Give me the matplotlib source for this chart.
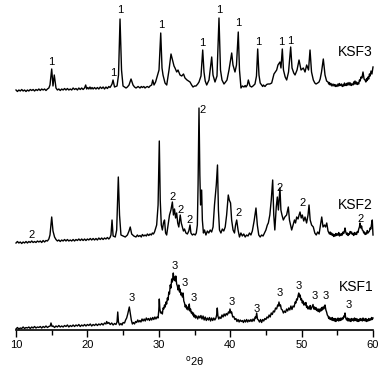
import numpy as np
import matplotlib
matplotlib.use("Agg")
import matplotlib.pyplot as plt

plt.rcParams['font.family'] = ['Liberation Sans', 'DejaVu Sans']

# XRD patterns: (2theta in degrees, intensity in a.u.)
ksf3 = [
    (10.0, 5), (10.2, 3.5), (10.4, 5), (10.6, 4), (10.8, 5.5), (11.0, 4), (11.2, 5), (11.4, 3.5),
    (11.6, 5), (11.8, 4), (12.0, 5.5), (12.2, 4.5), (12.4, 5.5), (12.6, 4), (12.8, 5.5), (13.0, 4.5),
    (13.2, 6), (13.4, 4.5), (13.6, 6), (13.8, 5), (14.0, 6), (14.2, 4.5), (14.4, 6), (14.6, 7),
    (14.76, 10), (15.00, 26), (15.18, 9), (15.36, 20), (15.6, 7), (15.8, 5), (16.0, 6), (16.2, 4.5),
    (16.4, 6), (16.6, 5), (16.8, 6.5), (17.0, 5), (17.2, 6.5), (17.4, 5), (17.6, 6), (17.8, 5),
    (18.0, 7), (18.2, 5.5), (18.4, 6.5), (18.6, 5), (18.8, 7), (19.0, 5.5), (19.2, 7), (19.4, 5.5),
    (19.6, 7), (19.76, 10), (19.9, 6), (20.05, 7.5), (20.2, 6), (20.36, 8), (20.5, 6), (20.65, 7.5),
    (20.8, 6), (21.0, 7.5), (21.2, 6), (21.4, 7.5), (21.6, 6), (21.8, 8), (22.0, 6.5), (22.2, 8),
    (22.4, 6), (22.6, 8), (22.8, 6.5), (23.0, 8.5), (23.17, 7.5), (23.3, 9), (23.45, 11),
    (23.59, 15), (23.80, 8), (24.15, 9), (24.36, 20), (24.57, 76), (24.78, 25), (24.99, 9),
    (25.2, 8), (25.41, 7), (25.6, 8), (25.83, 10), (26.11, 16), (26.39, 10), (26.6, 8), (26.81, 7),
    (27.1, 8.5), (27.37, 7), (27.55, 8.5), (27.7, 7.5), (27.9, 8.5), (28.07, 7), (28.25, 8),
    (28.4, 8.5), (28.6, 7.5), (28.77, 9), (29.0, 10), (29.15, 15), (29.33, 10), (29.55, 13),
    (29.75, 18), (30.03, 25), (30.27, 62), (30.45, 27), (30.59, 20), (30.87, 12), (31.11, 10),
    (31.43, 25), (31.71, 41), (31.92, 35), (32.13, 29), (32.27, 27), (32.51, 23), (32.69, 25),
    (32.97, 20), (33.21, 19), (33.46, 21), (33.67, 17), (33.95, 15), (34.15, 14), (34.37, 13),
    (34.6, 10), (34.79, 8), (35.0, 9), (35.21, 9), (35.45, 11), (35.63, 13), (35.91, 19),
    (36.15, 45), (36.33, 23), (36.5, 14), (36.71, 10), (37.03, 15), (37.41, 38), (37.59, 20),
    (37.87, 13), (38.15, 19), (38.43, 77), (38.64, 25), (38.85, 15), (39.13, 11), (39.35, 13),
    (39.55, 15), (39.83, 25), (40.21, 42), (40.39, 30), (40.67, 23), (40.88, 30), (41.13, 63),
    (41.30, 25), (41.51, 7), (41.7, 9), (41.93, 8), (42.1, 9.5), (42.21, 8), (42.4, 10),
    (42.54, 15), (42.77, 9), (43.0, 8), (43.19, 9), (43.47, 11), (43.68, 19), (43.85, 46),
    (44.03, 20), (44.2, 12), (44.41, 10), (44.55, 8.5), (44.65, 10), (44.87, 8.5), (45.1, 10.5),
    (45.29, 11), (45.55, 11), (45.81, 12), (46.13, 21), (46.51, 25), (46.69, 30), (46.97, 33),
    (47.11, 27), (47.30, 46), (47.46, 25), (47.7, 18), (47.91, 15), (48.17, 23), (48.47, 48),
    (48.66, 27), (48.9, 22), (49.08, 20), (49.36, 25), (49.64, 35), (49.92, 25), (50.24, 27),
    (50.48, 23), (50.71, 30), (50.97, 25), (51.18, 45), (51.39, 23), (51.64, 15), (51.85, 12),
    (52.02, 11), (52.25, 12), (52.44, 13), (52.6, 16), (52.79, 23), (53.04, 36), (53.28, 20),
    (53.5, 14), (53.70, 13), (53.8, 11), (53.9, 12.5), (54.0, 10), (54.12, 11.5), (54.25, 9),
    (54.4, 11), (54.54, 9), (54.65, 10.5), (54.75, 8.5), (54.85, 10), (54.96, 8.5), (55.1, 11),
    (55.2, 9), (55.3, 11.5), (55.45, 9.5), (55.6, 11), (55.7, 8.5), (55.80, 10), (55.9, 9),
    (56.0, 12), (56.1, 9.5), (56.22, 11), (56.3, 9.5), (56.4, 12), (56.5, 10), (56.64, 12.5),
    (56.75, 10), (56.85, 12), (56.95, 9.5), (57.06, 11), (57.2, 10), (57.3, 13), (57.4, 11),
    (57.48, 14), (57.6, 11), (57.7, 13), (57.8, 10.5), (57.90, 12), (58.0, 11), (58.1, 15),
    (58.2, 14), (58.32, 18), (58.45, 17), (58.60, 23), (58.75, 16), (58.88, 15), (59.0, 13),
    (59.1, 16.5), (59.2, 14.5), (59.30, 18), (59.4, 16), (59.5, 21), (59.6, 19), (59.72, 24),
    (59.85, 21), (60.00, 28),
]

ksf2 = [
    (10.0, 2), (10.2, 3.5), (10.4, 2), (10.6, 3), (10.8, 1.5), (11.0, 3), (11.2, 2), (11.4, 3.5),
    (11.6, 2), (11.8, 3.5), (12.0, 2.5), (12.2, 4), (12.4, 2.5), (12.6, 3.5), (12.8, 2.5), (13.0, 4),
    (13.2, 3), (13.4, 4), (13.6, 2.5), (13.8, 4.5), (14.0, 3), (14.2, 4.5), (14.4, 4), (14.6, 6),
    (14.76, 10), (15.00, 28), (15.18, 14), (15.4, 8), (15.6, 5.5), (15.8, 4), (16.0, 5),
    (16.2, 3.5), (16.4, 5), (16.6, 4), (16.8, 5.5), (17.0, 4), (17.2, 5.5), (17.4, 4), (17.6, 5),
    (17.8, 4), (18.0, 5.5), (18.2, 4), (18.4, 5.5), (18.6, 4.5), (18.8, 6), (19.0, 4.5), (19.2, 6),
    (19.4, 4.5), (19.6, 6), (19.8, 4.5), (20.0, 6), (20.2, 5), (20.4, 6.5), (20.6, 5), (20.8, 6.5),
    (21.0, 5), (21.2, 6.5), (21.4, 5), (21.6, 7), (21.8, 5.5), (22.0, 7), (22.2, 5.5), (22.4, 7),
    (22.6, 6), (22.8, 7.5), (23.0, 6), (23.17, 7.5), (23.3, 10), (23.45, 25), (23.6, 9),
    (23.9, 8), (24.1, 15), (24.33, 68), (24.5, 30), (24.7, 10), (25.0, 9), (25.3, 8), (25.6, 10),
    (25.83, 14), (26.0, 18), (26.2, 11), (26.5, 9), (26.8, 8), (27.0, 10), (27.15, 8.5),
    (27.37, 9.5), (27.55, 8), (27.7, 10.5), (27.9, 9), (28.07, 10), (28.25, 9), (28.4, 11),
    (28.6, 9.5), (28.77, 11), (28.95, 10), (29.1, 12), (29.25, 11), (29.4, 13), (29.7, 20),
    (29.9, 40), (30.07, 104), (30.2, 45), (30.35, 20), (30.5, 15), (30.65, 22), (30.8, 25),
    (30.95, 12), (31.1, 10), (31.3, 20), (31.5, 30), (31.7, 35), (31.9, 43), (32.05, 30),
    (32.2, 36), (32.35, 27), (32.5, 32), (32.65, 22), (32.8, 18), (33.0, 30), (33.15, 22),
    (33.3, 18), (33.45, 14), (33.6, 16), (33.8, 12), (34.0, 11), (34.2, 14), (34.37, 20),
    (34.5, 12), (34.7, 10), (34.9, 11), (35.1, 10), (35.25, 12), (35.4, 20), (35.5, 60),
    (35.63, 137), (35.75, 70), (35.85, 40), (36.0, 55), (36.1, 25), (36.25, 12), (36.4, 15),
    (36.6, 10), (36.8, 14), (37.0, 12), (37.2, 15), (37.4, 13), (37.6, 18), (37.8, 40),
    (38.05, 60), (38.22, 80), (38.35, 35), (38.5, 15), (38.7, 12), (38.9, 16), (39.1, 14),
    (39.3, 18), (39.5, 30), (39.73, 50), (39.87, 45), (40.05, 42), (40.2, 25), (40.4, 15),
    (40.6, 12), (40.75, 20), (40.91, 25), (41.1, 15), (41.3, 8), (41.5, 12), (41.7, 9),
    (41.9, 11), (42.1, 8), (42.3, 10), (42.5, 9), (42.7, 12), (42.9, 10), (43.1, 14),
    (43.35, 24), (43.61, 37), (43.8, 20), (44.0, 10), (44.2, 8), (44.4, 10), (44.6, 9),
    (44.8, 12), (45.0, 15), (45.2, 20), (45.34, 22), (45.55, 30), (45.75, 45), (45.95, 65),
    (46.1, 30), (46.25, 15), (46.45, 38), (46.6, 48), (46.75, 35), (46.97, 57), (47.1, 35),
    (47.25, 30), (47.44, 25), (47.65, 28), (47.9, 30), (48.14, 38), (48.3, 25), (48.45, 20),
    (48.61, 15), (48.8, 20), (49.0, 25), (49.15, 22), (49.31, 28), (49.5, 26), (49.65, 30),
    (49.78, 33), (49.95, 27), (50.1, 30), (50.3, 24), (50.48, 28), (50.7, 22), (50.9, 30),
    (51.04, 40), (51.2, 25), (51.4, 20), (51.64, 18), (51.85, 12), (52.05, 10), (52.25, 13),
    (52.45, 11), (52.65, 20), (52.82, 28), (53.0, 18), (53.2, 20), (53.35, 18), (53.52, 22),
    (53.7, 14), (53.9, 11), (54.0, 13), (54.1, 10.5), (54.2, 12), (54.3, 9.5), (54.4, 11),
    (54.5, 8.5), (54.6, 10.5), (54.7, 9), (54.8, 11.5), (54.9, 9.5), (55.0, 11), (55.1, 10),
    (55.2, 12.5), (55.3, 9), (55.4, 11), (55.5, 9.5), (55.6, 11.5), (55.7, 10), (55.8, 13),
    (55.9, 11.5), (56.0, 14), (56.08, 17), (56.18, 13), (56.3, 10.5), (56.4, 12), (56.5, 9.5),
    (56.6, 11.5), (56.7, 10.5), (56.8, 13.5), (56.9, 12), (57.0, 13), (57.1, 10.5), (57.2, 11.5),
    (57.3, 9.5), (57.4, 12.5), (57.5, 10.5), (57.6, 12), (57.7, 10.5), (57.8, 13.5), (57.9, 12.5),
    (58.0, 16), (58.1, 18), (58.18, 22), (58.3, 17), (58.4, 19), (58.5, 15), (58.6, 14.5),
    (58.7, 12), (58.8, 13), (58.9, 10.5), (59.0, 12), (59.1, 11), (59.2, 14.5), (59.3, 12),
    (59.4, 13), (59.5, 14), (59.6, 17), (59.7, 16), (59.8, 21), (59.9, 25), (60.0, 10),
]

ksf1 = [
    (10.0, 1), (10.2, 2.5), (10.4, 1), (10.6, 2), (10.8, 1.5), (11.0, 3), (11.2, 1.5), (11.4, 2.5),
    (11.6, 2), (11.8, 3), (12.0, 1.5), (12.2, 3), (12.4, 2), (12.6, 3.5), (12.8, 2), (13.0, 3),
    (13.2, 2.5), (13.4, 3.5), (13.6, 2), (13.8, 3.5), (14.0, 2.5), (14.2, 4), (14.4, 2.5),
    (14.6, 3.5), (14.8, 4), (14.9, 7), (15.05, 3.5), (15.2, 4), (15.4, 2.5), (15.6, 4), (15.8, 3),
    (16.0, 4.5), (16.2, 3), (16.4, 4), (16.6, 3), (16.8, 4.5), (17.0, 3.5), (17.2, 5), (17.4, 3),
    (17.6, 4.5), (17.8, 3.5), (18.0, 5), (18.2, 3.5), (18.4, 5), (18.6, 4), (18.8, 5.5), (19.0, 3.5),
    (19.2, 5), (19.4, 4), (19.6, 5.5), (19.8, 4), (20.0, 5.5), (20.2, 4.5), (20.4, 6), (20.6, 4),
    (20.8, 5.5), (21.0, 4.5), (21.2, 6), (21.4, 4.5), (21.6, 6), (21.8, 5), (22.0, 6.5), (22.2, 5),
    (22.4, 7), (22.6, 6), (22.7, 8.5), (22.85, 6.5), (23.0, 7.5), (23.2, 5.5), (23.4, 7),
    (23.6, 5), (23.8, 6.5), (24.0, 5.5), (24.15, 8), (24.25, 18), (24.35, 8), (24.5, 5),
    (24.7, 6.5), (24.85, 5), (25.0, 7.5), (25.2, 7), (25.35, 10), (25.5, 12), (25.65, 16),
    (25.87, 23), (26.0, 17), (26.15, 10), (26.3, 6), (26.45, 7.5), (26.6, 6), (26.75, 8.5),
    (26.9, 7.5), (27.05, 10), (27.2, 8), (27.35, 9.5), (27.5, 8), (27.65, 11), (27.8, 9),
    (27.95, 11), (28.1, 9), (28.25, 12), (28.4, 10), (28.55, 11.5), (28.7, 9.5), (28.85, 12),
    (29.0, 10), (29.15, 12.5), (29.3, 10.5), (29.45, 13), (29.6, 11), (29.75, 13), (29.9, 12),
    (30.0, 20), (30.07, 31), (30.15, 21), (30.25, 17), (30.4, 18), (30.5, 16), (30.6, 22),
    (30.7, 21), (30.8, 25), (30.9, 23), (31.0, 28), (31.1, 26), (31.2, 32), (31.3, 30),
    (31.4, 38), (31.5, 36), (31.6, 45), (31.7, 42), (31.8, 51), (31.9, 48), (32.03, 57),
    (32.12, 50), (32.2, 53), (32.3, 49), (32.38, 54), (32.5, 46), (32.6, 44), (32.7, 40),
    (32.8, 45), (32.9, 38), (32.97, 41), (33.1, 35), (33.2, 37), (33.3, 33), (33.4, 37),
    (33.5, 29), (33.6, 27), (33.7, 23), (33.8, 25), (33.9, 21), (34.0, 23), (34.1, 20),
    (34.2, 23), (34.27, 26), (34.35, 19), (34.45, 21), (34.55, 17), (34.65, 18), (34.75, 15),
    (34.85, 17), (34.95, 13), (35.05, 15), (35.15, 12), (35.3, 14), (35.45, 11), (35.6, 14),
    (35.75, 12), (35.9, 14.5), (36.05, 11), (36.2, 14), (36.35, 10), (36.5, 13), (36.65, 9.5),
    (36.8, 12), (36.95, 10), (37.1, 12.5), (37.25, 9), (37.4, 12), (37.55, 9.5), (37.7, 12),
    (37.85, 10), (38.0, 12), (38.1, 15), (38.19, 22), (38.28, 14), (38.4, 11), (38.55, 13),
    (38.7, 11.5), (38.85, 15), (39.0, 13), (39.15, 16), (39.3, 14), (39.45, 16.5), (39.6, 15),
    (39.75, 18), (39.87, 17), (39.97, 21), (40.1, 17), (40.2, 18), (40.35, 13), (40.5, 13.5),
    (40.65, 10.5), (40.8, 11.5), (40.95, 8.5), (41.1, 10.5), (41.25, 8), (41.4, 10), (41.55, 8.5),
    (41.7, 9.5), (41.85, 7.5), (42.0, 10), (42.15, 8), (42.3, 10.5), (42.45, 8), (42.6, 10),
    (42.75, 8.5), (42.9, 10.5), (43.05, 8.5), (43.2, 11), (43.35, 9), (43.5, 13), (43.6, 12),
    (43.71, 17), (43.82, 11), (43.95, 10), (44.1, 8), (44.25, 10.5), (44.4, 7.5), (44.55, 10.5),
    (44.7, 9), (44.85, 11.5), (45.0, 10.5), (45.15, 13), (45.3, 12), (45.45, 15), (45.6, 13),
    (45.75, 17), (45.9, 15.5), (46.05, 19), (46.2, 18), (46.35, 22), (46.5, 21), (46.65, 25),
    (46.75, 24), (46.83, 28), (46.95, 24), (47.05, 25), (47.15, 21), (47.3, 20), (47.45, 17),
    (47.6, 19), (47.75, 17.5), (47.9, 21), (48.05, 19), (48.2, 22), (48.35, 20), (48.5, 24),
    (48.65, 20.5), (48.8, 24), (48.95, 23), (49.1, 28), (49.2, 27), (49.3, 31), (49.4, 30),
    (49.5, 34), (49.6, 37), (49.7, 33), (49.8, 35), (49.9, 30), (50.0, 31), (50.1, 27),
    (50.2, 29), (50.3, 25), (50.4, 27), (50.5, 25), (50.6, 27.5), (50.7, 22.5), (50.8, 24),
    (50.9, 21), (51.0, 23), (51.1, 21), (51.2, 24.5), (51.3, 20.5), (51.45, 23), (51.6, 25.5),
    (51.7, 21), (51.8, 23), (51.9, 20.5), (52.0, 22.5), (52.1, 19.5), (52.2, 21), (52.3, 18.5),
    (52.4, 21), (52.5, 18), (52.6, 21), (52.7, 19), (52.8, 22.5), (52.9, 20), (53.0, 23),
    (53.1, 21), (53.2, 24), (53.28, 25), (53.4, 20), (53.5, 18), (53.6, 15), (53.7, 14),
    (53.8, 11.5), (53.9, 13), (54.0, 10.5), (54.1, 12), (54.2, 10), (54.3, 12.5), (54.4, 9.5),
    (54.5, 11.5), (54.6, 9), (54.7, 11.5), (54.8, 8.5), (54.9, 11), (55.0, 9.5), (55.1, 12),
    (55.2, 9), (55.3, 11.5), (55.4, 9.5), (55.5, 12), (55.6, 10), (55.7, 12), (55.8, 11),
    (55.9, 14), (56.0, 13), (56.08, 17), (56.18, 12), (56.3, 10), (56.4, 12), (56.5, 9),
    (56.6, 11.5), (56.7, 9), (56.8, 11), (56.9, 8.5), (57.0, 11.5), (57.1, 9.5), (57.2, 11),
    (57.3, 9), (57.4, 12), (57.5, 9.5), (57.6, 11.5), (57.7, 9), (57.8, 11), (57.9, 8.5),
    (58.0, 10.5), (58.1, 9), (58.2, 11.5), (58.3, 9.5), (58.4, 11), (58.5, 9), (58.6, 12),
    (58.7, 9.5), (58.8, 11), (58.9, 9), (59.0, 11.5), (59.1, 8.5), (59.2, 10.5), (59.3, 9),
    (59.4, 11.5), (59.5, 9.5), (59.6, 11), (59.7, 10), (59.8, 12.5), (59.9, 10.5), (60.0, 12),
]

# phase markers: (2theta, height of label) per pattern
ksf3_marks = [(15.0, 33), (23.63, 22), (24.57, 85), (30.27, 70), (36.15, 52), (38.5, 85),
              (41.13, 72), (43.9, 53), (47.1, 53), (48.4, 54)]
ksf2_marks = [(12.2, 10), (31.9, 48), (33.07, 35), (34.37, 25), (36.15, 135), (41.13, 32),
              (46.88, 57), (50.15, 42), (58.27, 26)]
ksf1_marks = [(26.2, 32), (32.27, 64), (33.57, 47), (34.83, 32), (40.21, 28), (43.71, 21),
              (46.97, 37), (49.54, 44), (51.88, 34), (53.42, 34), (56.54, 25)]

samples = ['KSF1', 'KSF2', 'KSF3']
mark_text = ['3', '2', '1']
offsets = [0, 85, 235]
name_height = [43, 40, 43]

fig = plt.figure(figsize=(3.79, 3.69), dpi=100)
ax = fig.add_axes([16 / 379, 39 / 369, 357 / 379, 330 / 369])

patterns = [ksf1, ksf2, ksf3]
marks = [ksf1_marks, ksf2_marks, ksf3_marks]
for i, (pat, mk) in enumerate(zip(patterns, marks)):
    arr = np.array(pat)
    ax.plot(arr[:, 0], arr[:, 1] + offsets[i], color='black', lw=1.0, clip_on=False)
    for x, y in mk:
        ax.text(x, y + offsets[i], mark_text[i], fontsize=8, ha='center', va='center')
    ax.text(60, name_height[i] + offsets[i], samples[i], fontsize=10, ha='right', va='center')

ax.set_xlim(10, 60)
ax.set_ylim(0, 330)
for s in ['left', 'right', 'top']:
    ax.spines[s].set_visible(False)
ax.spines['bottom'].set_linewidth(1.2)
ax.set_yticks([])
ax.set_xticks([10, 20, 30, 40, 50, 60])
ax.set_xticks([15, 25, 35, 45, 55], minor=True)
ax.tick_params(axis='x', which='major', length=5, width=1, labelsize=8, pad=2)
ax.tick_params(axis='x', which='minor', length=3.5, width=1)
ax.set_xlabel('$^{\\rm o}$2θ', fontsize=8, labelpad=3)

fig.savefig('out.png', dpi=100)
